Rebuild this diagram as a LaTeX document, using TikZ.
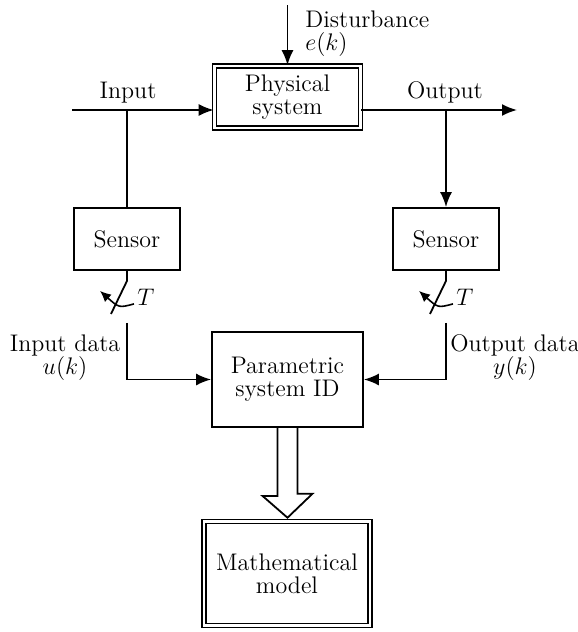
\documentclass[tikz,border=0pt]{standalone}
\usetikzlibrary{arrows.meta,calc}

\begin{document}
\begin{tikzpicture}[x=0.5pt, y=-0.5pt]
  % Styles
  \tikzset{
    every node/.style={font=\fontsize{12}{11.5}\selectfont},
    blk/.style={draw, line width=0.9pt, align=center, inner sep=2pt},
    dblk/.style={blk, double, line width=0.8pt, double distance=1.1pt},
    arr/.style={-{Latex[length=7.5pt, width=6pt]}, line width=0.9pt},
    ln/.style={line width=0.9pt},
  }

  \useasboundingbox (0,0) rectangle (578,632);

  % Blocs
  \node[dblk, minimum width=73pt, minimum height=31pt] (phys) at (287.5,97) {Physical\\system};
  \node[blk, minimum width=53pt, minimum height=31pt] (sensL) at (127,239) {Sensor};
  \node[blk, minimum width=53pt, minimum height=31pt] (sensR) at (446,239) {Sensor};
  \node[blk, minimum width=75.5pt, minimum height=47.5pt] (param) at (287.5,379.5) {Parametric\\system ID};
  \node[dblk, minimum width=83pt, minimum height=52pt] (model) at (287,573.5) {Mathematical\\model};

  % Entree, sortie et perturbation
  \coordinate (inL) at (72,110);
  \coordinate (outR) at (517,110);
  \coordinate (dist) at (287.5,5);
  \draw[arr] (inL) -- (inL -| phys.west);
  \draw[arr] (phys.east |- outR) -- (outR);
  \draw[arr] (dist) -- (phys.north);
  \node[anchor=base] at (128,98) {Input};
  \node[anchor=base] at (445,98) {Output};
  \node[anchor=north west, align=left, inner sep=0pt] at (305,10) {Disturbance\\$e(k)$};

  % Capteurs
  \draw[ln] (sensL.north |- inL) -- (sensL.north);
  \draw[arr] (sensR.north |- outR) -- (sensR.north);

  % Echantillonneurs
  \foreach \s in {sensL,sensR}{
    \draw[ln] (\s.south) -- ++(0,10) -- ++(-16,33);
    \draw[-{Latex[length=5.5pt, width=5pt]}, line width=0.8pt]
      ($(\s.south)+(7,33)$) .. controls ($(\s.south)+(-8,37)$) .. ($(\s.south)+(-27,20)$);
    \node at ($(\s.south)+(19,26)$) {$T$};
  }

  % Donnees
  \draw[arr] ($(sensL.south)+(0,52)$) |- (param.west);
  \draw[arr] ($(sensR.south)+(0,52)$) |- (param.east);
  \node[align=center] at (65,358) {Input data\\$u(k)$};
  \node[align=center] at (515,358) {Output data\\$y(k)$};

  % Fleche creuse
  \coordinate (tip) at ($(param.south |- model.north)+(0,-3)$);
  \draw[ln, line join=miter]
    ($(param.south)+(-10,0)$) -- ++(0,68) -- ++(-15,0) -- (tip)
    -- ($(tip)+(25,-24)$) -- ++(-15,0) -- ($(param.south)+(10,0)$);

\end{tikzpicture}
\end{document}
